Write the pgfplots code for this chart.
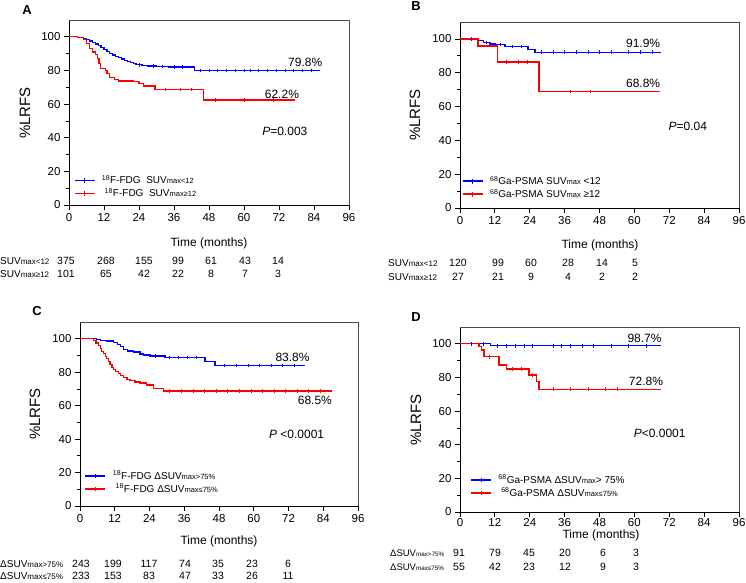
\documentclass[border=0pt]{standalone}
\usepackage{pgfplots}
\pgfplotsset{compat=1.18}
\usepackage{fontspec}
\setmainfont{Liberation Sans}
\newcommand\fs[1]{\fontsize{#1}{#1}\selectfont}
\newcommand\sm[1]{{\fs{7.5}#1}}
\newcommand\smx[2]{{\fs{#1}#2}}
\pgfplotsset{km/.style={
  scale only axis, anchor=south west,
  xmin=0, xmax=96, ymin=0, ymax=110,
  xtick={0,12,...,96}, ytick={0,20,...,100}, minor ytick={10,30,...,90},
  axis lines*=left, tick align=outside,
  major tick length=5pt, minor tick length=3pt,
  tick style={black, line width=0.8pt},
  axis line style={line width=0.8pt},
  tick label style={font=\fs{11.5}},
  /pgf/number format/assume math mode=true,
  clip=false,
  legend cell align=left,
  legend style={anchor=north west, draw=none, fill=none, font=\fs{10}, row sep=0pt,
    nodes={inner ysep=1.5pt, inner xsep=6.5pt}},
  legend image code/.code={\draw[##1, line width=1.8pt] (0pt,0pt) -- (20pt,0pt); \draw[##1, line width=0.7pt] (10pt,-2.2pt) -- (10pt,2.2pt);},
  every axis plot/.append style={line width=1.3pt, mark=none},
},
cens/.style={only marks, mark=|, mark size=1.8pt, line width=0.6pt, forget plot},
}
\begin{document}
\begin{tikzpicture}
\useasboundingbox (0,0) rectangle (746pt,-582pt);
%================ A =================
\begin{axis}[km, at={(69pt,-205pt)}, width=280pt, height=185pt,
  legend style={at={(rel axis cs:0.005,0.18)}}]
\addlegendimage{draw=blue}\addlegendentry{\textsuperscript{18}F-FDG\ \ SUV\sm{max<12}}
\addlegendimage{draw=red}\addlegendentry{\ \textsuperscript{18}F-FDG\ \ SUV\sm{max≥12}}
\addplot[blue, const plot, forget plot] coordinates {(0,100)(3,99.6)(5,99)(6,98.3)(7,97.5)(8,96.6)(9,95.8)(10,94.8)(11,93.8)(12,92.6)(13,91.4)(14,90.2)(15,89.2)(16,88.3)(17,87.5)(18,86.8)(19,86.1)(20,85.4)(21,84.7)(22,84.1)(23,83.6)(25,83.1)(27,82.7)(30,82.4)(34,82.1)(43,80)(86,80)};
\addplot[red, const plot, forget plot] coordinates {(0,100)(3,99.6)(5,98.5)(6,96)(7,93)(8,91)(9,89.5)(9.8,87)(10.3,84)(10.7,81.3)(12.5,80)(13,78)(14,76)(15.5,74.5)(17,73.8)(22,73.5)(24,72.4)(25.5,70.7)(29.5,68.6)(46,62.4)(77.5,62.4)};
\addplot[blue, cens] coordinates {(24,83.1)(29,82.7)(32,82.4)(36,82.1)(39,82.1)(45,80)(48,80)(51,80)(54,80)(57,80)(60,80)(62,80)(65,80)(68,80)(71,80)(74,80)(77,80)(80,80)(83,80)};
\addplot[red, cens] coordinates {(33,68.6)(38,68.6)(42,68.6)(50,62.4)(60,62.4)(70,62.4)};
\node[font=\fs{12}] at (axis cs:81,85) {79.8\%};
\node[font=\fs{12}] at (axis cs:73,66) {62.2\%};
\node[font=\fs{12}] at (axis cs:74,44) {\textit{P}=0.003};
\draw[gray!60!black, line width=0.6pt] (rel axis cs:0,1) -- (rel axis cs:1,1) -- (rel axis cs:1,0);
\end{axis}
%================ B =================
\begin{axis}[km, at={(460pt,-208pt)}, width=279pt, height=186pt,
  legend style={at={(rel axis cs:-0.005,0.19)}}]
\addlegendimage{draw=blue}\addlegendentry{\textsuperscript{68}Ga-PSMA SUV\sm{max} <12}
\addlegendimage{draw=red}\addlegendentry{\textsuperscript{68}Ga-PSMA SUV\sm{max} ≥12}
\addplot[blue, const plot, forget plot] coordinates {(0,100)(6.2,98.9)(8,97.8)(10.3,97)(12,96.7)(15.5,95.4)(23.4,93.8)(25.8,92.1)(69,92.1)};
\addplot[red, const plot, forget plot] coordinates {(0,100)(6.2,95.8)(13,86.3)(27.2,68.8)(68.8,68.8)};
\addplot[blue, cens] coordinates {(4,100)(9,97.8)(14,96.7)(18,95.4)(21,95.4)(28,92.1)(32,92.1)(36,92.1)(40,92.1)(44,92.1)(48,92.1)(52,92.1)(58,92.1)(62,92.1)(66,92.1)};
\addplot[red, cens] coordinates {(16,86.3)(20,86.3)(23,86.3)(38,68.8)(45,68.8)};
\node[font=\fs{12}] at (axis cs:63,97.4) {91.9\%};
\node[font=\fs{12}] at (axis cs:63,73.7) {68.8\%};
\node[font=\fs{12}] at (axis cs:78.4,48.5) {\textit{P}=0.04};
\draw[gray!60!black, line width=0.6pt] (rel axis cs:0,1) -- (rel axis cs:1,1) -- (rel axis cs:1,0);
\end{axis}
%================ C =================
\begin{axis}[km, at={(80pt,-506pt)}, width=278pt, height=184pt,
  legend style={at={(rel axis cs:0.005,0.21)}}]
\addlegendimage{draw=blue}\addlegendentry{\textsuperscript{18}F-FDG ΔSUV\sm{max>75\%}}
\addlegendimage{draw=red}\addlegendentry{\ \textsuperscript{18}F-FDG ΔSUV\sm{max≤75\%}}
\addplot[blue, const plot, forget plot] coordinates {(0,100)(5.8,99.5)(7,99)(9.2,98.6)(11.5,97.6)(13,96.5)(14,95.2)(15,93.5)(16.5,92.6)(18.4,92)(20.7,90.9)(22,90.2)(24.2,89.6)(29.4,88.9)(43.2,86.2)(46.6,83.9)(77.7,83.9)};
\addplot[red, const plot, forget plot] coordinates {(0,100)(4.6,99)(5.5,97.5)(6.3,96)(7,94)(7.5,92.5)(8,91)(8.7,89.5)(9.2,88.2)(9.8,86.5)(10.4,84.5)(11,83)(11.5,81.7)(12.3,80.5)(13.2,79.3)(14,78.2)(15,76.9)(16.2,75.8)(17.3,74.9)(19,74.2)(20.7,73.6)(23,72.4)(25.3,70.4)(28.8,68.8)(86.9,68.8)};
\addplot[blue, cens] coordinates {(26,89.6)(31,88.9)(34,88.9)(37,88.9)(40,88.9)(50,83.9)(54,83.9)(58,83.9)(62,83.9)(66,83.9)(70,83.9)(74,83.9)};
\addplot[red, cens] coordinates {(31,68.8)(35,68.8)(39,68.8)(43,68.8)(47,68.8)(51,68.8)(55,68.8)(59,68.8)(63,68.8)(67,68.8)(71,68.8)(75,68.8)(79,68.8)(83,68.8)};
\node[font=\fs{12}] at (axis cs:73.4,88.9) {83.8\%};
\node[font=\fs{12}] at (axis cs:81.1,63) {68.5\%};
\node[font=\fs{12}] at (axis cs:74.8,43) {\textit{P} <0.0001};
\draw[gray!60!black, line width=0.6pt] (rel axis cs:0,1) -- (rel axis cs:1,1) -- (rel axis cs:1,0);
\end{axis}
%================ D =================
\begin{axis}[km, at={(460pt,-512pt)}, width=279pt, height=185pt,
  xticklabel style={yshift=2pt},
  legend style={at={(rel axis cs:0.025,0.22)}}]
\addlegendimage{draw=blue}\addlegendentry{\textsuperscript{68}Ga-PSMA ΔSUV\sm{max}> 75\%}
\addlegendimage{draw=red}\addlegendentry{\ \textsuperscript{68}Ga-PSMA ΔSUV\sm{max≤75\%}}
\addplot[blue, const plot, forget plot] coordinates {(0,100)(10.4,98.8)(69.2,98.8)};
\addplot[red, const plot, forget plot] coordinates {(0,100)(6.5,98.6)(7.3,96.3)(8.3,92.3)(13.4,87.4)(15.9,85)(23.7,81.5)(26.2,77.5)(27.2,73)(69.2,73)};
\addplot[blue, cens] coordinates {(4,100)(8,100)(13,98.8)(16,98.8)(19,98.8)(22,98.8)(25,98.8)(32,98.8)(35,98.8)(38,98.8)(42,98.8)(46,98.8)(52,98.8)(58,98.8)(64,98.8)};
\addplot[red, cens] coordinates {(10,92.3)(18,85)(21,85)(25,81.5)(32,73)(38,73)(44,73)(50,73)(54,73)};
\node[font=\fs{12}] at (axis cs:63.5,103.3) {98.7\%};
\node[font=\fs{12}] at (axis cs:64,77.5) {72.8\%};
\node[font=\fs{12}] at (axis cs:68.7,46.8) {\textit{P}<0.0001};
\draw[gray!60!black, line width=0.6pt] (rel axis cs:0,1) -- (rel axis cs:1,1) -- (rel axis cs:1,0);
\end{axis}
%================ labels =================
\node[font=\fs{13}\bfseries] at (27pt,-10pt) {A};
\node[font=\fs{13}\bfseries] at (416pt,-6pt) {B};
\node[font=\fs{13}\bfseries] at (37pt,-311pt) {C};
\node[font=\fs{13}\bfseries] at (416pt,-317pt) {D};
\node[rotate=90, font=\fs{15}] at (25pt,-113pt) {\%LRFS};
\node[rotate=90, font=\fs{15}] at (415pt,-115pt) {\%LRFS};
\node[rotate=90, font=\fs{15}] at (35pt,-414pt) {\%LRFS};
\node[rotate=90, font=\fs{15}] at (416pt,-420pt) {\%LRFS};
\node[font=\fs{12}] at (209pt,-243pt) {Time (months)};
\node[font=\fs{12}] at (600pt,-245pt) {Time (months)};
\node[font=\fs{12}] at (219pt,-541pt) {Time (months)};
\node[font=\fs{12}] at (601pt,-535pt) {Time (months)};
%================ at risk =================
\begin{scope}[every node/.style={font=\fs{10.5}, inner sep=0pt}]
% A
\node[anchor=west] at (0pt,-261pt) {\smx{10}{SUV}\smx{8}{max<12}};
\node[anchor=west] at (0pt,-274pt) {\smx{10}{SUV}\smx{8}{max≥12}};
\foreach \x/\a/\b in {66/375/101, 106/268/65, 144/155/42, 178/99/22, 211/61/8, 245/43/7, 278/14/3}{
  \node at (\x pt,-261pt) {\a}; \node at (\x pt,-274pt) {\b};}
% B
\node[anchor=west] at (388pt,-263pt) {\smx{10}{SUV}\smx{8}{max<12}};
\node[anchor=west] at (388pt,-277pt) {\smx{10}{SUV}\smx{8}{max≥12}};
\foreach \x/\a/\b in {458/120/27, 498/99/21, 531/60/9, 568/28/4, 602/14/2, 635/5/2}{
  \node at (\x pt,-263pt) {\a}; \node at (\x pt,-277pt) {\b};}
% C
\node[anchor=west] at (0pt,-564pt) {\smx{10}{ΔSUV}\smx{8}{max>75\%}};
\node[anchor=west] at (0pt,-576pt) {\smx{10}{ΔSUV}\smx{8}{max≤75\%}};
\foreach \x/\a/\b in {81/243/233, 113/199/153, 149/117/83, 185/74/47, 218/35/33, 252/23/26, 288/6/11}{
  \node at (\x pt,-564pt) {\a}; \node at (\x pt,-576pt) {\b};}
% D
\node[anchor=west] at (390pt,-553pt) {\smx{9.5}{ΔSUV}\smx{6.3}{max>75\%}};
\node[anchor=west] at (390pt,-567pt) {\smx{9.5}{ΔSUV}\smx{6.3}{max≤75\%}};
\foreach \x/\a/\b in {459/91/55, 495/79/42, 529/45/23, 565/20/12, 603/6/9, 636/3/3}{
  \node at (\x pt,-553pt) {\a}; \node at (\x pt,-567pt) {\b};}
\end{scope}
\end{tikzpicture}
\end{document}
